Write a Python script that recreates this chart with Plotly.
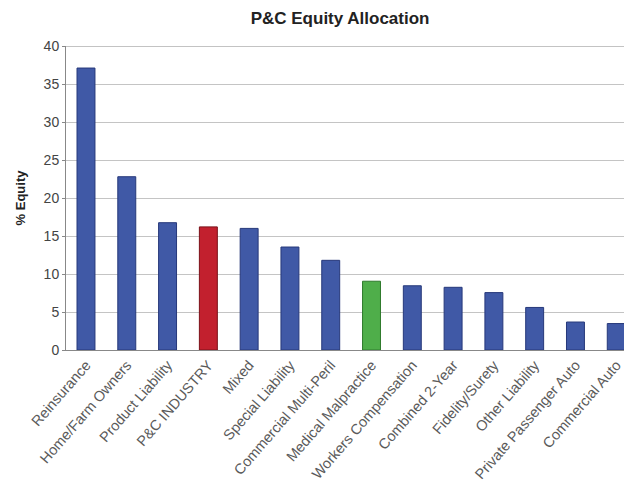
import plotly.graph_objects as go

# Equity allocation by P&C line of business (%)
categories = [
    "Reinsurance", "Home/Farm Owners", "Product Liability", "P&C INDUSTRY",
    "Mixed", "Special Liability", "Commercial Multi-Peril", "Medical Malpractice",
    "Workers Compensation", "Combined 2-Year", "Fidelity/Surety",
    "Other Liability", "Private Passenger Auto", "Commercial Auto",
]
equity_pct = [37.1, 22.8, 16.75, 16.2, 16.0, 13.55, 11.8, 9.05, 8.45, 8.25, 7.55, 5.6, 3.68, 3.48]
y_ticks = [0, 5, 10, 15, 20, 25, 30, 35, 40]

BLUE, RED, GREEN = "#4059a6", "#c2202e", "#4fae4a"
EDGE = {"#4059a6": "#26387a", "#c2202e": "#7a1018", "#4fae4a": "#2f7a2c"}


def bar_color(name):
    if name == "P&C INDUSTRY":
        return RED
    if name == "Medical Malpractice":
        return GREEN
    return BLUE


colors = [bar_color(c) for c in categories]

fig = go.Figure(
    go.Bar(
        x=categories,
        y=equity_pct,
        width=0.44,
        marker=dict(color=colors, line=dict(color=[EDGE[c] for c in colors], width=1)),
    )
)

fig.update_layout(
    width=624,
    height=488,
    margin=dict(l=66, r=0, t=46, b=138),
    paper_bgcolor="white",
    plot_bgcolor="white",
    showlegend=False,
    font=dict(family="Liberation Sans, Arial, sans-serif", color="#444"),
    title=dict(
        text="<b>P&C Equity Allocation</b>",
        x=0.545,
        xanchor="center",
        y=0.962,
        yanchor="middle",
        font=dict(size=17, color="#222"),
    ),
    xaxis=dict(
        range=[-0.49, 13.19],
        tickangle=-49,
        tickfont=dict(size=14.5, color="#5a5a5a"),
        showline=True,
        linecolor="#888",
        linewidth=1,
        ticks="",
        showgrid=False,
    ),
    yaxis=dict(
        range=[0, 40],
        tickvals=y_ticks,
        tickfont=dict(size=14, color="#444"),
        showline=True,
        linecolor="#888",
        linewidth=1,
        ticks="outside",
        ticklen=3,
        tickcolor="#888",
        showgrid=True,
        gridcolor="#c4c4c4",
        gridwidth=1,
        zeroline=False,
        title=dict(text="<b>% Equity</b>", font=dict(size=13, color="#222"), standoff=15),
    ),
)

# top border at 40
fig.add_shape(type="line", xref="paper", yref="y", x0=0, x1=1, y0=40, y1=40,
              line=dict(color="#888", width=1))

fig.write_html("out.html")
